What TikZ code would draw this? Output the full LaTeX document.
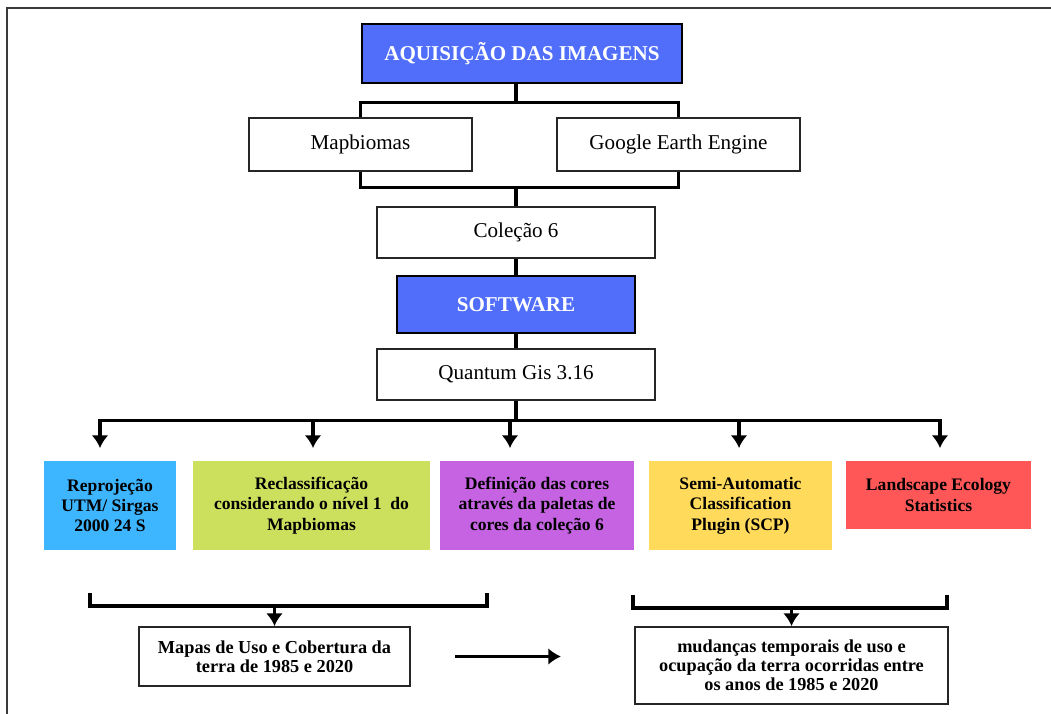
\documentclass[tikz,border=0pt]{standalone}
\usepackage{fontspec}
\setmainfont{Liberation Serif}
\usepackage{tikz}
\usetikzlibrary{arrows.meta,positioning,calc}
\definecolor{hdblue}{HTML}{506EFA}
\definecolor{skyb}{HTML}{3DB6FF}
\definecolor{limeg}{HTML}{CDE05E}
\definecolor{purp}{HTML}{C563E2}
\definecolor{gold}{HTML}{FFDA5B}
\definecolor{coral}{HTML}{FF5757}
\definecolor{framegray}{HTML}{3A3A3A}
\tikzset{
  head/.style={draw=black,line width=1.6pt,fill=hdblue,text=white,font=\fontsize{15}{18}\selectfont\bfseries},
  plain/.style={draw=black!85,line width=1.2pt,fill=white,font=\fontsize{15}{18}\selectfont},
  tool/.style={align=center,font=\fontsize{12.5}{14.5}\selectfont\bfseries},
  result/.style={draw=black!85,line width=1.4pt,align=center,font=\fontsize{13}{13.5}\selectfont\bfseries},
  link/.style={line width=2.2pt},
  arr/.style={-{Latex[width=12pt,length=9pt]},line width=2.2pt}
}
\begin{document}
\begin{tikzpicture}[x=0.025cm,y=-0.025cm]
  \useasboundingbox (0,0) rectangle (1051,714);
  \draw[framegray,line width=1.5pt] (7,714) -- (7,8) -- (1051,8);

  % aquisição e fontes
  \node[head,minimum width=8cm,minimum height=1.475cm] (aq) at (522,53.5) {AQUISIÇÃO DAS IMAGENS};
  \node[plain,minimum width=5.575cm,minimum height=1.325cm] (mapb) at (360.5,144.5) {Mapbiomas};
  \node[plain,minimum width=6.075cm,minimum height=1.325cm] (gee) at (678.5,144.5) {Google Earth Engine};
  \node[plain,minimum width=6.95cm,minimum height=1.275cm] (col) at (516,232.5) {Coleção 6};
  \node[head,minimum width=5.95cm,minimum height=1.425cm] (soft) at (516,304.5) {SOFTWARE};
  \node[plain,minimum width=6.95cm,minimum height=1.275cm] (qgis) at (516,374.5) {Quantum Gis 3.16};

  % ferramentas
  \node[tool,fill=skyb,minimum width=3.3cm,minimum height=2.225cm] (reproj) at (110,505.5)
    {Reprojeção\\UTM/ Sirgas\\2000 24 S};
  \node[tool,fill=limeg,minimum width=5.925cm,minimum height=2.225cm] (reclass) at (311.5,505.5)
    {Reclassificação\\considerando o nível 1\ \ do\\Mapbiomas};
  \node[tool,fill=purp,minimum width=4.85cm,minimum height=2.225cm] (paleta) at (537,505.5)
    {Definição das cores\\através da paletas de\\cores da coleção 6};
  \node[tool,fill=gold,minimum width=4.575cm,minimum height=2.225cm] (scp) at (740.5,505.5)
    {Semi-Automatic\\Classification\\Plugin (SCP)};
  \node[tool,fill=coral,minimum width=4.625cm,minimum height=1.7cm] (lse) at (938.5,495)
    {Landscape Ecology\\Statistics};

  % resultados
  \node[result,minimum width=6.775cm,minimum height=1.475cm] (mapas) at (274.5,656.5)
    {Mapas de Uso e Cobertura da\\terra de 1985 e 2020};
  \node[result,minimum width=7.825cm,minimum height=1.925cm] (mudanca) at (791.5,665.5)
    {mudanças temporais de uso e\\ocupação da terra ocorridas entre\\os anos de 1985 e 2020};

  \draw[link] (aq.south -| col.north) -- ++(0,18) coordinate (j1);
  \draw[link] (mapb.north) |- (j1) -| (gee.north);
  \draw[link] (col.north) -- ++(0,-19) coordinate (j2);
  \draw[link] (mapb.south) |- (j2) -| (gee.south);
  \draw[link] (col.south) -- (soft.north);
  \draw[link] (soft.south) -- (qgis.north);
  \draw[link] (qgis.south) -- ++(0,20) coordinate (bus);

  \coordinate (t1) at (100,448);
  \coordinate (t2) at (313,448);
  \coordinate (t3) at (510,448);
  \coordinate (t4) at (739,448);
  \coordinate (t5) at (940,448);
  \draw[{Latex[width=12pt,length=9pt]}-{Latex[width=12pt,length=9pt]},line width=2.2pt]
    (t1) -- (t1 |- bus) -- (t5 |- bus) -- (t5);
  \foreach \t in {t2,t3,t4}
    \draw[arr] (\t |- bus) -- (\t);

  \coordinate (la) at (90,593);
  \coordinate (lb) at (487,606);
  \draw[link] (la) |- (lb) -- (lb |- la);
  \draw[arr] (mapas.north |- lb) -- (mapas.north);
  \coordinate (ra) at (633,595);
  \coordinate (rb) at (947,608);
  \draw[link] (ra) |- (rb) -- (rb |- ra);
  \draw[arr] (mudanca.north |- rb) -- (mudanca.north);

  \draw[arr,shorten <=1.1cm,shorten >=1.825cm] (mapas.east) -- (mapas.east -| mudanca.west);
\end{tikzpicture}
\end{document}
